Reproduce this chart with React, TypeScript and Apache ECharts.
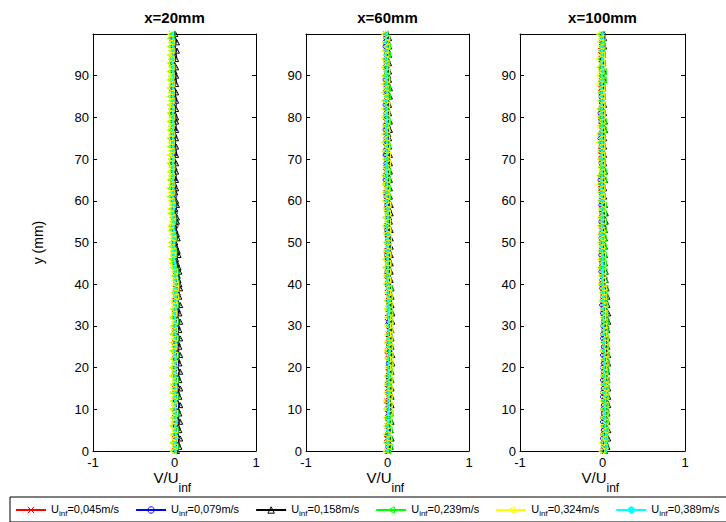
import React, { useEffect, useRef } from 'react';
import * as echarts from 'echarts';

const yMm = [
  0, 1, 2, 3, 4, 5, 6, 7, 8, 9, 10, 11, 12, 13, 14, 15, 16, 17, 18, 19,
  20, 21, 22, 23, 24, 25, 26, 27, 28, 29, 30, 31, 32, 33, 34, 35, 36, 37, 38, 39,
  40, 41, 42, 43, 44, 45, 46, 47, 48, 49, 50, 51, 52, 53, 54, 55, 56, 57, 58, 59,
  60, 61, 62, 63, 64, 65, 66, 67, 68, 69, 70, 71, 72, 73, 74, 75, 76, 77, 78, 79,
  80, 81, 82, 83, 84, 85, 86, 87, 88, 89, 90, 91, 92, 93, 94, 95, 96, 97, 98, 99, 100,
];

const panelTitles = ['x=20mm', 'x=60mm', 'x=100mm'];
const speeds = ['0,045', '0,079', '0,158', '0,239', '0,324', '0,389'];
const xTicks = [-1, 0, 1];
const yTicks = [0, 10, 20, 30, 40, 50, 60, 70, 80, 90];

// ---- x = 20 mm ----
const red20 = [
  .01, 0, .02, 0, .01, .02, 0, .01, .02, 0,
  .01, .02, 0, .01, .02, 0, .01, .02, .01, 0,
  0, .02, .01, 0, .02, .01, 0, .02, .01, 0,
  .01, .02, .02, 0, .01, .02, 0, .01, .02, .01,
  .03, .02, .02, .01, .01, 0, 0, -.01, .01, 0,
  -.01, 0, 0, -.01, .01, 0, -.01, 0, 0, -.01,
  -.02, -.01, -.01, -.02, -.03, -.01, -.01, -.02, -.02, -.03,
  -.03, -.01, -.01, -.02, -.02, -.03, -.03, -.01, -.01, -.02,
  -.02, -.03, -.03, -.01, -.01, -.02, -.02, -.03, -.03, -.01,
  -.01, -.02, -.02, -.03, -.03, -.01, -.01, -.02, -.02, -.03, -.03,
];
const blue20 = [
  .02, .01, .03, .01, .02, .03, .01, .02, .03, .01,
  .02, .03, .01, .02, .03, .01, .02, .03, .02, .01,
  .02, .03, .01, .02, .03, .01, .02, .03, .02, .01,
  .02, .03, .01, .02, .03, .02, .01, .02, .03, .02,
  .04, .03, .03, .02, .02, .01, .01, 0, .02, .01,
  0, .01, .01, 0, .02, .01, 0, .01, 0, .01,
  -.01, 0, 0, -.01, -.02, 0, 0, -.01, -.01, -.02,
  -.02, 0, 0, -.01, -.01, -.02, -.02, 0, 0, -.01,
  -.01, -.02, -.02, 0, 0, -.01, -.01, -.02, -.02, 0,
  0, -.01, -.01, -.02, -.02, 0, 0, -.01, -.01, -.02, -.01,
];
const black20 = [
  .03, .06, .04, .07, .03, .06, .04, .07, .03, .06,
  .04, .07, .03, .06, .04, .07, .03, .06, .04, .07,
  .03, .06, .04, .07, .03, .06, .04, .07, .03, .06,
  .04, .07, .03, .06, .04, .07, .03, .06, .04, .07,
  .06, .05, .04, .06, .05, .03, .02, .05, .04, .02,
  .01, .04, .03, .01, 0, .03, .03, 0, .01, .03,
  .02, -.01, .01, .02, 0, .02, -.01, .02, 0, .02,
  -.01, .02, 0, .02, -.01, .02, 0, .02, -.01, .02,
  .02, 0, .02, -.01, .02, 0, .02, -.01, .02, 0,
  .02, 0, .02, -.01, .02, 0, .03, -.01, .03, 0, .01,
];
const green20 = [
  -.01, .01, -.02, 0, -.01, .01, -.02, 0, -.01, .01,
  -.02, 0, -.01, .01, -.02, 0, -.01, .01, -.02, 0,
  -.02, 0, -.01, .01, -.02, 0, -.01, .01, -.02, 0,
  -.01, .01, -.02, 0, -.01, .01, 0, .02, 0, .02,
  .02, .01, 0, .01, -.01, -.02, -.03, -.01, -.01, -.03,
  -.03, -.01, -.02, -.03, -.04, -.02, -.02, -.04, -.04, -.02,
  -.03, -.05, -.03, -.05, -.03, -.05, -.04, -.05, -.03, -.05,
  -.04, -.05, -.03, -.05, -.04, -.05, -.03, -.05, -.04, -.05,
  -.03, -.05, -.04, -.05, -.03, -.05, -.04, -.05, -.03, -.05,
  -.04, -.05, -.03, -.05, -.04, -.05, -.03, -.05, -.03, -.04, -.03,
];
const yellow20 = [
  -.02, 0, -.03, 0, -.02, 0, -.03, -.01, -.02, 0,
  -.03, 0, -.02, 0, -.03, -.01, -.02, 0, -.03, 0,
  -.03, 0, -.02, 0, -.03, -.01, -.02, 0, -.03, 0,
  -.02, 0, -.03, -.01, -.02, 0, -.01, .01, -.01, .01,
  .01, 0, -.01, 0, -.02, -.03, -.04, -.02, -.02, -.04,
  -.04, -.02, -.03, -.05, -.05, -.03, -.03, -.05, -.05, -.03,
  -.04, -.06, -.04, -.06, -.04, -.06, -.04, -.05, -.04, -.06,
  -.04, -.05, -.04, -.06, -.04, -.06, -.04, -.06, -.04, -.06,
  -.04, -.06, -.04, -.05, -.04, -.06, -.04, -.05, -.04, -.06,
  -.04, -.06, -.04, -.06, -.04, -.05, -.04, -.06, -.04, -.06, -.05,
];
const cyan20 = [
  .01, .01, .01, .02, .01, .01, .01, .02, .01, .01,
  .01, .01, .01, .01, .01, .01, .01, .01, .01, .01,
  .01, .01, .01, 0, 0, .01, .01, .01, .01, .01,
  .01, .01, 0, 0, .01, .01, .01, .01, .01, .01,
  .02, .01, .01, .01, 0, 0, -.01, -.01, -.01, -.01,
  -.01, -.01, -.01, -.01, -.01, -.01, -.02, -.02, -.01, -.01,
  -.02, -.02, -.02, -.02, -.02, -.02, -.02, -.02, -.02, -.02,
  -.02, -.02, -.02, -.02, -.02, -.02, -.02, -.02, -.02, -.02,
  -.02, -.02, -.02, -.02, -.02, -.02, -.02, -.02, -.02, -.02,
  -.02, -.02, -.02, -.03, -.03, -.02, -.02, -.02, -.02, -.02, -.03,
];

// ---- x = 60 mm ----
const red60 = [
  0, .01, .01, -.01, 0, .01, 0, .01, .01, 0,
  .01, 0, -.01, .01, .01, 0, 0, .01, .02, .01,
  .01, .02, .02, 0, 0, .02, .02, .01, .01, .02,
  .02, 0, 0, .01, .01, .02, .02, .01, 0, 0,
  .01, 0, -.01, 0, .01, 0, 0, -.01, -.01, 0,
  .01, 0, 0, -.01, -.01, 0, .01, 0, -.01, -.01,
  0, -.01, -.02, -.01, 0, -.01, -.01, -.02, -.02, 0,
  0, -.01, -.01, -.02, -.02, 0, 0, -.01, -.01, -.02,
  -.02, -.01, 0, 0, -.01, -.01, -.02, -.02, 0, 0,
  -.01, -.01, -.02, -.02, 0, 0, -.01, -.01, -.02, -.02, -.02,
];
const blue60 = [
  .01, 0, 0, .02, 0, .01, .01, .02, 0, .01,
  .02, .01, 0, .02, .01, .02, .02, .01, .01, .02,
  .02, .01, .01, .03, .03, .01, .02, .02, .03, .03,
  .01, .01, .02, .02, .03, .01, .01, .02, .02, .01,
  0, .01, .01, -.01, .01, 0, 0, -.01, -.01, .01,
  .01, 0, 0, -.01, -.01, .01, .01, 0, 0, -.01,
  -.01, -.02, -.02, 0, 0, -.03, -.03, -.01, -.01, -.02,
  -.02, -.03, -.03, -.01, -.01, -.02, -.02, -.03, -.03, -.01,
  -.01, -.02, -.02, -.03, -.03, -.01, -.01, -.02, -.02, -.03,
  -.03, -.01, -.01, -.02, -.02, -.02, -.02, -.03, -.03, -.02, -.02,
];
const black60 = [
  .01, .04, .02, .05, .01, .04, .02, .05, .01, .04,
  .02, .05, .02, .05, .03, .05, .02, .05, .02, .05,
  .03, .06, .03, .06, .03, .05, .02, .05, .02, .05,
  .03, .06, .03, .06, .03, .05, .03, .05, .03, .05,
  .02, .04, .01, .04, .01, .04, .02, .04, .02, .04,
  .02, .04, .01, .04, .01, .03, .02, .04, .02, .04,
  .01, .03, 0, .03, 0, .03, .01, .03, .01, .03,
  .01, .03, 0, .02, 0, .02, .01, .03, .01, .03,
  0, .02, 0, .02, 0, .03, 0, .03, .01, .02,
  .01, .02, 0, .02, 0, .02, .01, .02, .01, .02, 0,
];
const green60 = [
  0, .02, -.01, .02, -.01, .02, 0, .02, 0, .03,
  -.01, .02, -.01, .02, 0, .02, 0, .03, 0, .03,
  .01, .03, .01, .03, 0, .03, 0, .03, .01, .03,
  .01, .03, .01, .03, 0, .02, 0, .02, .01, .03,
  -.01, .01, -.01, .01, -.02, .01, -.02, .01, -.01, .01,
  -.01, .01, -.01, .01, -.02, 0, -.02, 0, -.01, .01,
  -.02, 0, -.02, 0, -.03, 0, -.03, 0, -.02, 0,
  -.02, 0, -.02, 0, -.03, -.01, -.03, -.01, -.02, 0,
  -.03, -.01, -.03, -.01, -.03, 0, -.03, 0, -.02, -.01,
  -.02, -.01, -.03, -.01, -.03, 0, -.03, 0, -.02, -.01, -.03,
];
const yellow60 = [
  -.02, .01, -.02, .01, -.02, .01, -.02, .01, -.02, .02,
  -.01, .02, -.01, .02, -.01, .02, -.01, .02, -.01, .02,
  0, .03, 0, .03, -.01, .02, -.01, .02, 0, .03,
  0, .03, 0, .02, -.01, .02, -.01, .02, 0, .01,
  -.02, 0, -.02, 0, -.03, 0, -.03, 0, -.02, .01,
  -.02, .01, -.02, 0, -.03, 0, -.03, 0, -.02, 0,
  -.03, -.01, -.03, -.01, -.04, -.01, -.04, -.01, -.03, 0,
  -.03, 0, -.03, -.01, -.04, -.01, -.04, -.01, -.03, -.01,
  -.04, -.01, -.04, -.01, -.04, -.02, -.04, -.02, -.04, -.01,
  -.04, -.01, -.04, -.02, -.04, -.02, -.03, -.01, -.03, -.01, -.04,
];
const cyan60 = [
  0, 0, 0, .01, .01, 0, 0, .01, .01, .01,
  .01, .01, .01, .01, .01, .01, .01, .01, .01, .01,
  .01, .01, .01, .02, .02, .01, .01, .01, .01, .01,
  .01, .01, .01, .01, .01, .01, .01, .01, .01, .01,
  0, 0, 0, 0, 0, 0, 0, 0, 0, 0,
  0, 0, 0, -.01, -.01, 0, 0, 0, 0, -.01,
  -.01, -.01, -.01, -.01, -.01, -.01, -.01, -.01, -.01, -.01,
  -.01, -.01, -.01, -.01, -.01, -.01, -.01, -.01, -.01, -.01,
  -.01, -.01, -.01, -.02, -.02, -.01, -.01, -.01, -.01, -.01,
  -.02, -.02, -.01, -.01, -.02, -.02, -.01, -.01, -.02, -.02, -.02,
];

// ---- x = 100 mm ----
const red100 = [
  .01, .02, .02, .03, .03, .02, .02, .03, .03, .02,
  .02, .03, .03, .02, .02, .03, .03, .02, .02, .03,
  .03, .02, .02, .04, .04, .03, .03, .02, .02, .03,
  .03, .02, .02, .01, .01, .02, .02, .01, .01, .01,
  0, .01, .01, 0, 0, -.01, -.01, 0, 0, -.01,
  -.01, 0, 0, -.01, -.01, 0, 0, -.01, -.01, -.01,
  0, -.01, -.01, -.02, -.02, -.01, -.01, 0, 0, -.01,
  -.01, -.02, -.02, -.01, -.01, 0, 0, -.01, -.01, -.02,
  -.02, -.01, -.01, 0, 0, -.01, -.01, -.02, -.02, -.01,
  -.01, 0, 0, -.01, -.01, -.02, -.02, -.01, -.01, 0, 0,
];
const blue100 = [
  0, .01, .01, 0, 0, .01, .01, 0, 0, .01,
  0, .01, .01, 0, 0, .01, .01, 0, 0, .01,
  0, .01, .01, 0, 0, .01, .01, 0, 0, .01,
  0, .01, .01, 0, 0, -.01, -.01, 0, 0, -.01,
  -.02, -.01, -.01, -.02, -.02, -.01, -.01, -.02, -.02, -.01,
  -.01, -.02, -.02, -.01, -.01, -.02, -.02, -.01, -.01, -.02,
  -.02, -.01, -.01, -.02, -.02, -.03, -.03, -.01, -.01, -.02,
  -.02, -.01, -.01, -.02, -.02, -.03, -.03, -.01, -.01, -.02,
  -.02, -.03, -.03, -.01, -.01, -.02, -.02, -.01, -.01, -.02,
  -.01, -.02, -.02, -.01, -.01, 0, 0, -.01, -.01, 0, .01,
];
const black100 = [
  .03, .06, .04, .07, .04, .07, .04, .06, .04, .06,
  .05, .07, .05, .07, .04, .07, .04, .06, .04, .06,
  .05, .07, .05, .07, .04, .06, .04, .06, .04, .06,
  .05, .07, .05, .07, .04, .06, .04, .06, .03, .05,
  .02, .04, .02, .04, .01, .03, .01, .03, .01, .03,
  .01, .03, .01, .03, .02, .04, .02, .04, .01, .03,
  0, .02, 0, .02, 0, .03, 0, .03, .01, .02,
  .01, .02, 0, .02, 0, .02, .01, .03, .01, .03,
  0, .02, 0, .02, -.01, .01, -.01, .01, 0, .02,
  0, .02, -.01, .01, -.01, .01, 0, .02, 0, .02, 0,
];
const green100 = [
  .01, .03, .01, .03, .02, .04, .02, .04, .02, .04,
  .02, .04, .02, .04, .03, .05, .03, .05, .02, .04,
  .03, .05, .03, .05, .03, .04, .03, .04, .02, .04,
  .02, .04, .02, .03, .02, .03, .01, .03, .01, .03,
  0, .02, 0, .02, -.01, .01, -.01, .01, -.01, .01,
  -.01, .01, -.01, .01, -.02, .01, -.02, .01, -.01, .01,
  -.02, 0, -.02, 0, -.02, .01, -.02, .01, -.01, 0,
  -.01, 0, -.02, 0, -.02, 0, -.01, .01, -.01, .01,
  -.02, 0, -.02, 0, -.02, 0, -.02, 0, -.01, .01,
  -.01, .01, -.02, 0, -.02, 0, -.01, 0, -.01, 0, -.02,
];
const yellow100 = [
  -.01, .02, -.01, .02, 0, .03, 0, .03, 0, .03,
  0, .03, 0, .03, .01, .03, .01, .03, 0, .02,
  .01, .03, .01, .03, 0, .03, 0, .03, .01, .02,
  .01, .02, 0, .02, 0, .02, -.01, .01, -.01, .01,
  -.02, 0, -.02, 0, -.03, 0, -.03, 0, -.03, -.01,
  -.03, -.01, -.03, -.01, -.03, 0, -.03, 0, -.02, 0,
  -.03, -.01, -.03, -.01, -.04, -.01, -.04, -.01, -.03, -.01,
  -.03, -.01, -.03, -.01, -.04, -.01, -.04, -.01, -.03, -.01,
  -.04, -.01, -.04, -.01, -.03, -.01, -.03, -.01, -.04, -.02,
  -.04, -.02, -.04, -.01, -.04, -.01, -.03, -.02, -.03, -.02, -.04,
];
const cyan100 = [
  .04, .04, .04, .04, .04, .04, .03, .03, .03, .03,
  .03, .03, .03, .03, .03, .03, .03, .03, .02, .02,
  .02, .02, .02, .02, .02, .02, .02, .02, .02, .02,
  .01, .01, .01, .01, .01, .01, .01, .01, .01, .01,
  0, 0, 0, 0, 0, 0, 0, 0, -.01, -.01,
  0, 0, -.01, -.01, -.01, -.01, -.01, -.01, -.01, -.01,
  -.01, -.01, -.01, -.01, -.01, -.01, -.01, -.01, -.01, -.01,
  -.01, -.01, -.01, -.01, -.01, -.01, -.01, -.01, -.01, -.01,
  -.01, -.01, -.01, -.01, -.01, -.01, -.01, -.01, -.01, -.01,
  -.01, -.01, -.01, -.01, 0, 0, -.01, -.01, 0, -.01, 0,
];

const panelData = [
  [red20, blue20, black20, green20, yellow20, cyan20],
  [red60, blue60, black60, green60, yellow60, cyan60],
  [red100, blue100, black100, green100, yellow100, cyan100],
];

const FONT = '"Liberation Sans", Arial, Helvetica, sans-serif';

const seriesStyles = [
  { color: '#ff0000', symbol: 'path://M0,0L10,10M10,0L0,10', rotate: 0, size: 5, filled: false },
  { color: '#0000ff', symbol: 'circle', rotate: 0, size: 4, filled: false },
  { color: '#000000', symbol: 'triangle', rotate: 0, size: 5, filled: false },
  { color: '#00ff00', symbol: 'triangle', rotate: 90, size: 6, filled: false },
  { color: '#ffff00', symbol: 'triangle', rotate: 90, size: 6, filled: false },
  { color: '#00ffff', symbol: 'circle', rotate: 0, size: 2, filled: true },
];

const grids = [
  { left: 93, top: 34, width: 163, height: 417 },
  { left: 306, top: 34, width: 163, height: 417 },
  { left: 520, top: 34, width: 165, height: 417 },
];

function buildOption() {
  const xAxis: any[] = [];
  const yAxis: any[] = [];
  const series: any[] = [];
  const graphic: any[] = [];
  const axisLine = { show: true, onZero: false, lineStyle: { color: '#000', width: 1 } };
  const tick = { show: true, inside: true, length: 4, lineStyle: { color: '#000' } };
  grids.forEach((g, p) => {
    xAxis.push({
      type: 'value', gridIndex: p, position: 'bottom', min: xTicks[0], max: xTicks[xTicks.length - 1], interval: 1,
      axisLine, axisTick: tick, splitLine: { show: false },
      axisLabel: { color: '#000', fontSize: 13, fontFamily: FONT, margin: 5 },
    });
    xAxis.push({
      type: 'value', gridIndex: p, position: 'top', min: -1, max: 1, interval: 1,
      axisLine, axisTick: tick, splitLine: { show: false }, axisLabel: { show: false },
    });
    yAxis.push({
      type: 'value', gridIndex: p, position: 'left', min: 0, max: 100, interval: 10,
      axisLine, axisTick: tick, splitLine: { show: false },
      axisLabel: {
        color: '#000', fontSize: 13, fontFamily: FONT, margin: 4,
        formatter: (v: number) => (yTicks.indexOf(v) >= 0 ? String(v) : ''),
      },
      name: p === 0 ? 'y (mm)' : '',
      nameLocation: 'middle', nameGap: 48,
      nameTextStyle: { color: '#000', fontSize: 14, fontFamily: FONT },
    });
    yAxis.push({
      type: 'value', gridIndex: p, position: 'right', min: 0, max: 100, interval: 10,
      axisLine, axisTick: tick, splitLine: { show: false }, axisLabel: { show: false },
    });
    panelData[p].forEach((vals, k) => {
      const st = seriesStyles[k];
      series.push({
        type: 'line',
        name: 'U_inf=' + speeds[k] + 'm/s',
        xAxisIndex: p * 2,
        yAxisIndex: p * 2,
        data: vals.map((v, j) => [v, yMm[j]]),
        symbol: st.symbol,
        symbolSize: st.size,
        symbolRotate: st.rotate,
        showAllSymbol: true,
        color: st.color,
        lineStyle: { color: st.color, width: 1 },
        itemStyle: { color: st.filled ? st.color : 'rgba(0,0,0,0)', borderColor: st.color, borderWidth: 1 },
        emphasis: { disabled: true },
        silent: true,
      });
    });
    const cx = g.left + g.width / 2;
    graphic.push({
      type: 'text', x: cx, y: 17,
      style: { text: panelTitles[p], font: 'bold 15px ' + FONT, fill: '#000', textAlign: 'center', textVerticalAlign: 'middle' },
    });
    graphic.push({
      type: 'text', x: cx - 21, y: 477,
      style: { text: 'V/U', font: '15px ' + FONT, fill: '#000', textAlign: 'left', textVerticalAlign: 'middle' },
    });
    graphic.push({
      type: 'text', x: cx + 4, y: 488,
      style: { text: 'inf', font: '12px ' + FONT, fill: '#000', textAlign: 'left', textVerticalAlign: 'middle' },
    });
  });

  return {
    animation: false,
    backgroundColor: '#fff',
    grid: grids,
    xAxis,
    yAxis,
    series,
    graphic,
    legend: {
      show: true,
      left: 10,
      top: 497,
      width: 760,
      padding: [6, 20, 5, 5],
      borderColor: '#000',
      borderWidth: 1,
      itemWidth: 30,
      itemHeight: 8,
      itemGap: 16,
      data: speeds.map((s, k) => ({
        name: 'U_inf=' + s + 'm/s',
        itemStyle: {
          color: seriesStyles[k].filled ? seriesStyles[k].color : 'rgba(0,0,0,0)',
          borderColor: seriesStyles[k].color,
          borderWidth: 1,
        },
      })),
      formatter: (name: string) => '{a|U}{b|inf}{a|' + name.slice(5) + '}',
      textStyle: {
        color: '#000', fontSize: 11, fontFamily: FONT,
        rich: {
          a: { fontSize: 11, fontFamily: FONT, color: '#000', verticalAlign: 'bottom', padding: [0, 0, 3, 0] },
          b: { fontSize: 8, fontFamily: FONT, color: '#000', verticalAlign: 'bottom' },
        },
      },
    },
  };
}

export default function App() {
  const ref = useRef<HTMLDivElement>(null);
  useEffect(() => {
    const chart = echarts.init(ref.current as HTMLDivElement, null, { renderer: 'svg' });
    chart.setOption(buildOption() as any);
    return () => chart.dispose();
  }, []);
  return (
    <div
      ref={ref}
      style={{ position: 'absolute', left: 0, top: 0, width: 726, height: 522, background: '#fff' }}
    />
  );
}
